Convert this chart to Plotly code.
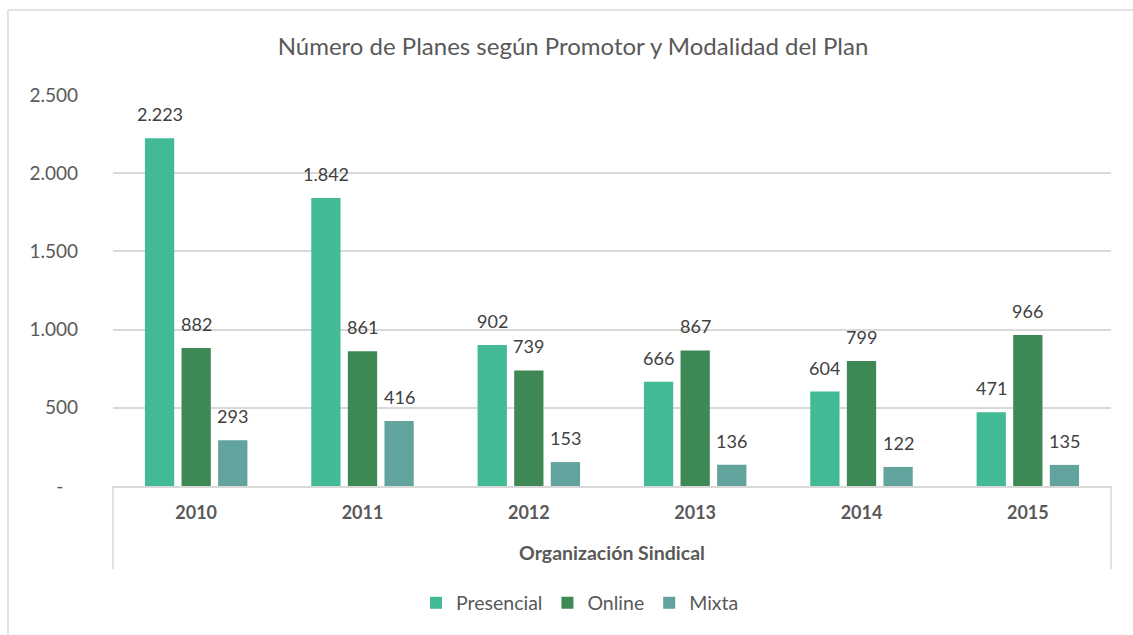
import plotly.graph_objects as go

# Data
years = ["2010", "2011", "2012", "2013", "2014", "2015"]
series_names = ["Presencial", "Online", "Mixta"]
presencial = [2223, 1842, 902, 666, 604, 471]
online = [882, 861, 739, 867, 799, 966]
mixta = [293, 416, 153, 136, 122, 135]
y_ticks = [0, 500, 1000, 1500, 2000, 2500]
y_tick_labels = ["-\u00a0\u00a0\u00a0", "500", "1.000", "1.500", "2.000", "2.500"]

colors = ["#43BA96", "#3D8855", "#63A39E"]
all_series = [presencial, online, mixta]

FONT = "Lato"
W, H = 1133, 635
L, R, T, B = 113, 22, 95, 149
plot_w = W - L - R
plot_h = H - T - B

BARGAP = 0.34
slot = (1 - BARGAP) / 3


def fmt(v):
    return f"{v:,}".replace(",", ".")


def px_x(px):
    return (px - L) / plot_w


def px_y(py):
    return (H - B - py) / plot_h


fig = go.Figure()
x_idx = list(range(len(years)))
for name, vals, col in zip(series_names, all_series, colors):
    fig.add_trace(go.Bar(
        x=x_idx, y=vals, name=name,
        marker=dict(color=col, line=dict(width=0)),
        hoverinfo="skip",
    ))

# value labels above each bar
annotations = []
for k, vals in enumerate(all_series):
    for i, v in enumerate(vals):
        annotations.append(dict(
            x=i + (k - 1) * slot, y=v, xref="x", yref="y",
            text=fmt(v), showarrow=False, yanchor="middle", yshift=24,
            font=dict(family=FONT, size=18, color="#404040"),
        ))

# chart frame (top and left edges) and category-axis side rules
frame = dict(color="#D9D9D9", width=1.5)
shapes = [
    dict(type="line", xref="paper", yref="paper",
         x0=px_x(8), x1=px_x(1200), y0=px_y(10), y1=px_y(10), line=frame),
    dict(type="line", xref="paper", yref="paper",
         x0=px_x(8), x1=px_x(8), y0=px_y(10), y1=px_y(700), line=frame),
    dict(type="line", xref="paper", yref="paper", x0=0, x1=0,
         y0=0, y1=px_y(569), line=frame),
    dict(type="line", xref="paper", yref="paper", x0=1, x1=1,
         y0=0, y1=px_y(569), line=frame),
]

fig.update_layout(
    width=W, height=H,
    margin=dict(l=L, r=R, t=T, b=B),
    paper_bgcolor="white", plot_bgcolor="white",
    barmode="group", bargap=BARGAP, bargroupgap=0.2,
    font=dict(family=FONT, color="#595959"),
    title=dict(
        text="Número de Planes según Promotor y Modalidad del Plan",
        font=dict(family=FONT, size=24, color="#595959"),
        xref="container", x=573 / W, xanchor="center",
        yref="container", y=1 - 47 / H, yanchor="middle",
    ),
    xaxis=dict(
        tickmode="array", tickvals=x_idx,
        ticktext=[f"<b>{y}</b>" for y in years],
        tickfont=dict(family=FONT, size=18, color="#595959"),
        range=[-0.5, len(years) - 0.5],
        showline=True, linecolor="#D9D9D9", linewidth=1.5,
        showgrid=False, zeroline=False, ticks="",
        ticklabelstandoff=10,
        title=dict(text="<b>Organización Sindical</b>",
                   font=dict(family=FONT, size=19.5, color="#595959"),
                   standoff=24),
    ),
    yaxis=dict(
        range=[0, 2500], tickmode="array", tickvals=y_ticks,
        ticktext=y_tick_labels,
        tickfont=dict(family=FONT, size=19, color="#595959"),
        showgrid=True, gridcolor="#D9D9D9", gridwidth=1.5,
        zeroline=False, showline=False, ticks="",
        ticklabelstandoff=34,
    ),
    legend=dict(
        orientation="h", xref="paper", yref="paper",
        x=px_x(580), xanchor="center",
        y=px_y(603), yanchor="middle",
        font=dict(family=FONT, size=19.5, color="#595959"),
        itemwidth=30, tracegroupgap=0,
    ),
    annotations=annotations,
    shapes=shapes,
)

fig.write_html("out.html")
